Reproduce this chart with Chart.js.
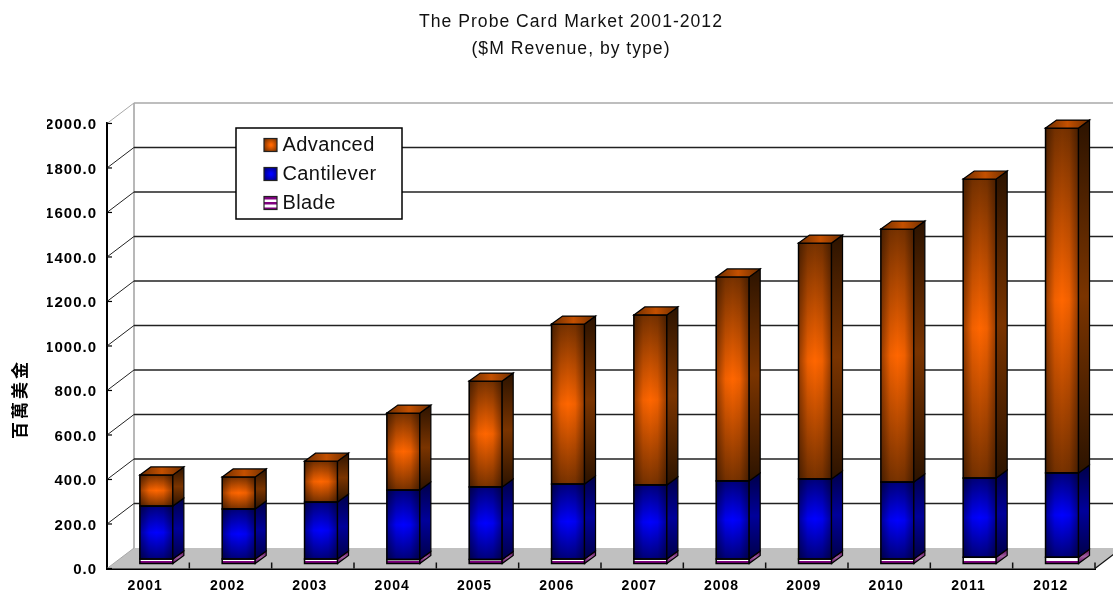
<!DOCTYPE html>
<html>
<head>
<meta charset="utf-8">
<title>The Probe Card Market 2001-2012</title>
<script src="https://cdn.jsdelivr.net/npm/chart.js@4/dist/chart.umd.min.js"></script>
<style>
  html, body { margin: 0; padding: 0; background: #fff; }
  canvas { display: block; }
</style>
</head>
<body>
<canvas id="chart-canvas" width="1113" height="591"></canvas>
<script>
let years = ["2001", "2002", "2003", "2004", "2005", "2006", "2007", "2008", "2009", "2010", "2011", "2012"];
let bladeValues = [20, 20, 20, 18, 18, 20, 20, 20, 20, 20, 28, 28];
let cantileverValues = [238, 225, 256, 312, 326, 337, 333, 351, 360, 346, 356, 379];
let advancedValues = [140, 144, 184, 346, 476, 719, 764, 917, 1060, 1137, 1344, 1550];
let titleLines = ["The Probe Card Market 2001-2012", "($M Revenue, by type)"];
let yTitle = "百萬美金";

// depth of the back wall, and of the bars, in pixels
let wallX = 27, wallY = -20.5;
let depthX = 11, depthY = -8;
// bars stand in the middle of the floor, not on the front edge
let barShiftX = 8.2, barShiftY = -5;

let palette = {
  Advanced: { edge: "#783200", mid: "#ff6600", sideEdge: "#2c1300", sideMid: "#7a3400", topEdge: "#6e2e00", topMid: "#c45000" },
  Cantilever: { edge: "#00007a", mid: "#0000ff", sideEdge: "#000048", sideMid: "#00009a", topEdge: "#00007a", topMid: "#0000ff" },
  Blade: { edge: "#800080", mid: "#800080", sideEdge: "#5a005a", sideMid: "#a060a0", topEdge: "#800080", topMid: "#800080" },
};

let canvas = document.getElementById("chart-canvas");

function barFill(context) {
  let chart = context.chart;
  let name = context.dataset.label;
  let y = chart.scales.y;
  if (!y || context.dataIndex === undefined) {
    return palette[name].mid;
  }
  let below = 0;
  for (let i = 0; i < context.datasetIndex; i++) {
    below += chart.data.datasets[i].data[context.dataIndex];
  }
  let above = below + context.dataset.data[context.dataIndex];
  let y0 = y.getPixelForValue(above);
  let y1 = y.getPixelForValue(below);
  if (!isFinite(y0) || !isFinite(y1)) {
    return palette[name].mid;
  }
  let gradient = chart.ctx.createLinearGradient(0, y0, 0, y1);
  if (name === "Blade") {
    // thin purple strip at the foot, white above it
    let stop = Math.max(0, 1 - 2.5 / (y1 - y0));
    gradient.addColorStop(0, "#ffffff");
    gradient.addColorStop(stop, "#ffffff");
    gradient.addColorStop(stop, "#800080");
    gradient.addColorStop(1, "#800080");
  } else {
    gradient.addColorStop(0, palette[name].edge);
    gradient.addColorStop(0.5, palette[name].mid);
    gradient.addColorStop(1, palette[name].edge);
  }
  return gradient;
}

function drawFrame(chart) {
  let ctx = chart.ctx;
  let area = chart.chartArea;
  let yScale = chart.scales.y;

  ctx.save();
  ctx.beginPath();
  ctx.moveTo(area.left, area.bottom);
  ctx.lineTo(area.right, area.bottom);
  ctx.lineTo(area.right + wallX, area.bottom + wallY);
  ctx.lineTo(area.left + wallX, area.bottom + wallY);
  ctx.closePath();
  ctx.fillStyle = "#c0c0c0";
  ctx.fill();

  ctx.strokeStyle = "#a0a0a0";
  ctx.lineWidth = 1.5;
  ctx.beginPath();
  ctx.moveTo(area.left + wallX, area.bottom + wallY);
  ctx.lineTo(area.left + wallX, area.top + wallY);
  ctx.stroke();

  yScale.ticks.forEach(function (tick) {
    let y = yScale.getPixelForValue(tick.value);
    let isEnd = tick.value === 0 || tick.value === 2000;
    ctx.strokeStyle = isEnd ? "#a8a8a8" : "#222222";
    ctx.lineWidth = isEnd ? 1.5 : 1.6;
    if (tick.value !== 0) {
      ctx.beginPath();
      ctx.moveTo(area.left + wallX, y + wallY);
      ctx.lineTo(chart.width, y + wallY);
      ctx.stroke();
    }
    ctx.lineWidth = 1;
    ctx.beginPath();
    ctx.moveTo(area.left, y);
    ctx.lineTo(area.left + wallX, y + wallY);
    ctx.stroke();
    ctx.strokeStyle = "#000000";
    ctx.lineWidth = 1.2;
    ctx.beginPath();
    ctx.moveTo(area.left, y);
    ctx.lineTo(area.left + 5, y);
    ctx.stroke();
  });

  // tick marks between the years and the right edge of the floor
  ctx.strokeStyle = "#111111";
  ctx.lineWidth = 1.5;
  let step = (area.right - area.left) / years.length;
  for (let i = 1; i <= years.length; i++) {
    ctx.beginPath();
    ctx.moveTo(area.left + step * i, area.bottom);
    ctx.lineTo(area.left + step * i, area.bottom - 6);
    ctx.stroke();
  }
  ctx.lineWidth = 1.2;
  ctx.beginPath();
  ctx.moveTo(area.right, area.bottom);
  ctx.lineTo(area.right + wallX, area.bottom + wallY);
  ctx.stroke();
  ctx.restore();
}

function polygon(ctx, points) {
  ctx.beginPath();
  ctx.moveTo(points[0][0], points[0][1]);
  for (let i = 1; i < points.length; i++) {
    ctx.lineTo(points[i][0], points[i][1]);
  }
  ctx.closePath();
}

function drawDepth(chart) {
  let ctx = chart.ctx;
  chart.data.datasets.forEach(function (dataset, index) {
    let colors = palette[dataset.label];
    chart.getDatasetMeta(index).data.forEach(function (bar) {
      let p = bar.getProps(["x", "y", "base", "width"], true);
      let left = p.x - p.width / 2;
      let right = p.x + p.width / 2;

      // soften the front face towards its left and right edges
      if (dataset.label !== "Blade") {
        let shade = ctx.createLinearGradient(left, 0, right, 0);
        shade.addColorStop(0, "rgba(0,0,0,0.42)");
        shade.addColorStop(0.28, "rgba(0,0,0,0.06)");
        shade.addColorStop(0.5, "rgba(0,0,0,0)");
        shade.addColorStop(0.72, "rgba(0,0,0,0.06)");
        shade.addColorStop(1, "rgba(0,0,0,0.42)");
        ctx.fillStyle = shade;
        ctx.fillRect(left, p.y, p.width, p.base - p.y);
      }

      ctx.strokeStyle = "#000000";
      ctx.lineWidth = 1.5;
      ctx.strokeRect(left, p.y, p.width, p.base - p.y);

      let side = ctx.createLinearGradient(0, p.y + depthY, 0, p.base);
      side.addColorStop(0, colors.sideEdge);
      side.addColorStop(0.5, colors.sideMid);
      side.addColorStop(1, colors.sideEdge);
      polygon(ctx, [[right, p.y], [right + depthX, p.y + depthY], [right + depthX, p.base + depthY], [right, p.base]]);
      ctx.fillStyle = side;
      ctx.fill();
      ctx.lineWidth = 1.2;
      ctx.stroke();

      if (index === chart.data.datasets.length - 1) {
        let top = ctx.createLinearGradient(left, 0, right + depthX, 0);
        top.addColorStop(0, colors.topEdge);
        top.addColorStop(0.5, colors.topMid);
        top.addColorStop(1, colors.topEdge);
        polygon(ctx, [[left, p.y], [left + depthX, p.y + depthY], [right + depthX, p.y + depthY], [right, p.y]]);
        ctx.fillStyle = top;
        ctx.fill();
        ctx.stroke();
      }
    });
  });
}

function drawLegend(chart) {
  let ctx = chart.ctx;
  let names = chart.data.datasets.map(function (d) { return d.label; }).reverse();
  ctx.save();
  ctx.fillStyle = "#ffffff";
  ctx.fillRect(236, 128, 166, 91);
  ctx.strokeStyle = "#000000";
  ctx.lineWidth = 1.5;
  ctx.strokeRect(236, 128, 166, 91);
  ctx.letterSpacing = "0.4px";
  ctx.font = "20px 'Liberation Sans'";
  ctx.textBaseline = "middle";
  ctx.textAlign = "left";
  names.forEach(function (name, i) {
    let y = 145 + i * 29;
    let swatch = ctx.createRadialGradient(271, y, 1, 271, y, 8);
    swatch.addColorStop(0, palette[name].mid);
    swatch.addColorStop(1, palette[name].edge);
    ctx.fillStyle = swatch;
    ctx.fillRect(264, y - 6.5, 13, 13);
    if (name === "Blade") {
      ctx.fillStyle = "#ffffff";
      ctx.fillRect(264, y - 3.5, 13, 2.5);
      ctx.fillRect(264, y + 1.5, 13, 3);
    }
    ctx.strokeStyle = "#222222";
    ctx.lineWidth = 1.2;
    ctx.strokeRect(264, y - 6.5, 13, 13);
    ctx.fillStyle = "#111111";
    ctx.fillText(name, 282.5, y + 0.5);
  });
  ctx.restore();
}

function drawYTitle(chart) {
  let ctx = chart.ctx;
  ctx.save();
  ctx.translate(20, 399);
  ctx.rotate(-Math.PI / 2);
  ctx.letterSpacing = "3px";
  ctx.font = "bold 17px 'Noto Sans CJK TC'";
  ctx.fillStyle = "#000000";
  ctx.textAlign = "center";
  ctx.textBaseline = "middle";
  ctx.fillText(yTitle, 0, 0);
  ctx.restore();
}

let depthPlugin = {
  id: "depth",
  beforeDraw: function (chart) {
    chart.ctx.letterSpacing = "1px";
  },
  beforeDatasetsDraw: function (chart) {
    drawFrame(chart);
    chart.ctx.save();
    chart.ctx.translate(barShiftX, barShiftY);
  },
  afterDatasetsDraw: function (chart) {
    drawDepth(chart);
    chart.ctx.restore();
  },
  afterDraw: function (chart) {
    drawLegend(chart);
    drawYTitle(chart);
  },
};

function makeDataset(label, values) {
  return {
    label: label,
    data: values,
    backgroundColor: barFill,
    borderColor: "#000000",
    borderWidth: 0,
    barThickness: 33,
    clip: false,
  };
}

let probeChart = new Chart(canvas, {
  type: "bar",
  data: {
    labels: years,
    datasets: [
      makeDataset("Blade", bladeValues),
      makeDataset("Cantilever", cantileverValues),
      makeDataset("Advanced", advancedValues),
    ],
  },
  plugins: [depthPlugin],
  options: {
    responsive: false,
    animation: false,
    devicePixelRatio: 1,
    layout: { padding: { left: 47, right: 18, top: 0, bottom: 0 } },
    plugins: {
      legend: { display: false },
      tooltip: { enabled: false },
      title: {
        display: true,
        text: titleLines,
        color: "#111111",
        font: { family: "'Liberation Sans'", size: 17.6, weight: "normal", lineHeight: 1.55 },
        padding: { top: 8.5, bottom: 60.4 },
      },
    },
    scales: {
      x: {
        stacked: true,
        afterFit: function (scale) { scale.height = 22.5; },
        grid: { display: false, drawTicks: false },
        border: { color: "#000000", width: 2 },
        ticks: {
          color: "#000000",
          font: { family: "'Liberation Sans'", size: 14, weight: "bold" },
          padding: 9,
          labelOffset: -3,
          maxRotation: 0,
          autoSkip: false,
        },
      },
      y: {
        stacked: true,
        min: 0,
        max: 2000,
        afterFit: function (scale) { scale.width = 60; },
        grid: { display: false, drawTicks: false },
        border: { color: "#000000", width: 2 },
        ticks: {
          stepSize: 200,
          color: "#000000",
          font: { family: "'Liberation Sans'", size: 15, weight: "bold" },
          padding: 10,
          labelOffset: 1.5,
          callback: function (value) { return value.toFixed(1); },
        },
      },
    },
  },
});
</script>
</body>
</html>
